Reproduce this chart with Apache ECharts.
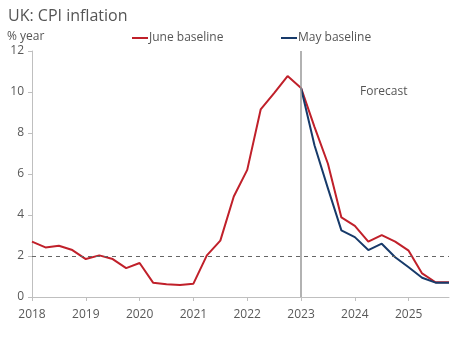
<!DOCTYPE html>
<html><head><meta charset="utf-8">
<script src="https://cdn.jsdelivr.net/npm/echarts@6/dist/echarts.min.js"></script>
<style>html,body{margin:0;padding:0;background:#fff}#c{width:468px;height:346px}</style>
</head><body><div id="c"></div>
<script>
var categories = [
 '2018 Q1','2018 Q2','2018 Q3','2018 Q4',
 '2019 Q1','2019 Q2','2019 Q3','2019 Q4',
 '2020 Q1','2020 Q2','2020 Q3','2020 Q4',
 '2021 Q1','2021 Q2','2021 Q3','2021 Q4',
 '2022 Q1','2022 Q2','2022 Q3','2022 Q4',
 '2023 Q1','2023 Q2','2023 Q3','2023 Q4',
 '2024 Q1','2024 Q2','2024 Q3','2024 Q4',
 '2025 Q1','2025 Q2','2025 Q3','2025 Q4'
];
var juneBaseline = [
 2.7, 2.42, 2.5, 2.29,
 1.85, 2.03, 1.85, 1.41,
 1.66, 0.70, 0.62, 0.58,
 0.65, 2.03, 2.75, 4.9,
 6.2, 9.15, 9.95, 10.78,
 10.2, 8.3, 6.5, 3.88,
 3.47, 2.7, 3.02, 2.7,
 2.26, 1.15, 0.72, 0.72
];
var mayBaseline = [
 null, null, null, null,
 null, null, null, null,
 null, null, null, null,
 null, null, null, null,
 null, null, null, null,
 10.2, 7.4, 5.3, 3.25,
 2.92, 2.29, 2.6, 1.94,
 1.45, 0.94, 0.7, 0.7
];
var yTicks = [0, 2, 4, 6, 8, 10, 12];
var targetLevel = 2;
var forecastStart = '2023 Q1';

var FONT = 'Open Sans';
var chart = echarts.init(document.getElementById('c'), null, {renderer: 'canvas'});
chart.setOption({
  animation: false,
  textStyle: {fontFamily: FONT},
  title: {text: 'UK: CPI inflation', left: 3, top: 3,
    textStyle: {fontFamily: FONT, fontSize: 16, fontWeight: 'normal', color: '#555'}},
  graphic: [
    {type: 'text', left: 7, top: 31, style: {text: '% year', font: '12px "Open Sans"', fill: '#555', textVerticalAlign: 'top'}},
    {type: 'text', left: 360, top: 86, style: {text: 'Forecast', font: '12px "Open Sans"', fill: '#555', textVerticalAlign: 'top'}}
  ],
  legend: [
    {data: ['June baseline'], left: 127, top: 27, icon: 'rect', itemWidth: 16, itemHeight: 2,
      textStyle: {fontFamily: FONT, fontSize: 12, color: '#555', padding: [0,0,0,-4]}},
    {data: ['May baseline'], left: 276, top: 27, icon: 'rect', itemWidth: 16, itemHeight: 2,
      textStyle: {fontFamily: FONT, fontSize: 12, color: '#555', padding: [0,0,0,-4]}}
  ],
  grid: {left: 32, right: 19, top: 51, bottom: 49},
  xAxis: {
    type: 'category', data: categories, boundaryGap: false,
    axisLine: {lineStyle: {color: '#bfbfbf', width: 1}},
    axisTick: {interval: 3, length: 4, lineStyle: {color: '#bfbfbf'}},
    axisLabel: {interval: 3, color: '#595959', fontSize: 12, margin: 12,
      formatter: function(v){ return v.slice(0,4); }},
    splitLine: {show: false}
  },
  yAxis: {
    type: 'value', min: yTicks[0], max: yTicks[yTicks.length-1], interval: 2,
    axisLine: {show: true, lineStyle: {color: '#bfbfbf', width: 1}},
    axisTick: {show: true, length: 4, lineStyle: {color: '#bfbfbf'}},
    axisLabel: {color: '#595959', fontSize: 12, margin: 8},
    splitLine: {show: false}
  },
  series: [
    {name: 'June baseline', type: 'line', data: juneBaseline, symbol: 'none',
      color: '#c0202a', lineStyle: {width: 2, color: '#c0202a'}, z: 3,
      markLine: {silent: true, symbol: 'none', label: {show: false},
        data: [
          {yAxis: targetLevel, lineStyle: {type: [4,4], color: '#666', width: 1}},
          {xAxis: forecastStart, lineStyle: {type: 'solid', color: '#999', width: 1.5}}
        ]}},
    {name: 'May baseline', type: 'line', data: mayBaseline, symbol: 'none',
      color: '#173a6a', lineStyle: {width: 2, color: '#173a6a'}, z: 4}
  ]
});
</script></body></html>
